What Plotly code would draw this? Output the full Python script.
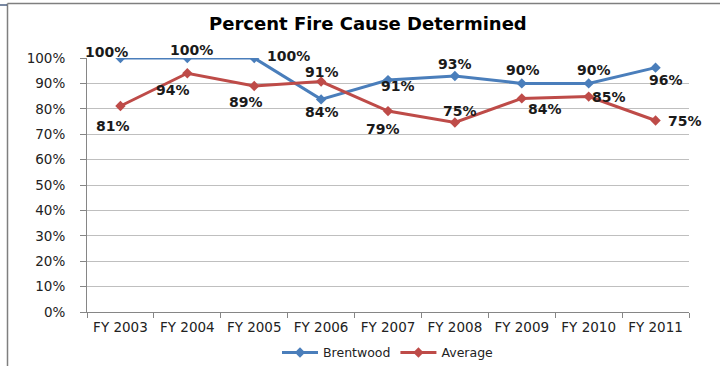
import plotly.graph_objects as go

categories = ["FY 2003", "FY 2004", "FY 2005", "FY 2006", "FY 2007",
              "FY 2008", "FY 2009", "FY 2010", "FY 2011"]
brentwood = [1.00, 1.00, 1.00, 0.837, 0.913, 0.929, 0.90, 0.90, 0.962]
average = [0.811, 0.94, 0.89, 0.907, 0.791, 0.746, 0.841, 0.848, 0.754]

# label offsets in pixels (dx, dy) relative to the point
b_off = [(-14, 6), (4, 8), (34, 2), (1, -13), (10, -6), (0, 12), (1, 13), (5, 13), (10, -12)]
a_off = [(-7, -20), (-14, -17), (-8, -16), (1, 10), (-5, -18), (5, 12), (23, -11), (20, 0), (29, -1)]

BLUE = "#4A7EBB"
RED = "#BE4B48"

fig = go.Figure()
fig.add_trace(go.Scatter(
    x=categories, y=brentwood, name="Brentwood", mode="lines+markers",
    line=dict(color=BLUE, width=3), marker=dict(symbol="diamond", size=8, color=BLUE)))
fig.add_trace(go.Scatter(
    x=categories, y=average, name="Average", mode="lines+markers",
    line=dict(color=RED, width=3), marker=dict(symbol="diamond", size=8, color=RED)))

annotations = []
for series, offs in ((brentwood, b_off), (average, a_off)):
    for c, v, (dx, dy) in zip(categories, series, offs):
        annotations.append(dict(
            x=c, y=v, xref="x", yref="y", text=f"{round(v * 100)}%",
            showarrow=False, xshift=dx, yshift=dy,
            font=dict(family="DejaVu Sans", size=14, color="#1a1a1a", weight=600)))

fig.update_layout(
    width=720, height=366,
    margin=dict(l=87, r=31, t=58, b=54, autoexpand=False),
    paper_bgcolor="white", plot_bgcolor="white",
    font=dict(family="DejaVu Sans", color="#222"),
    title=dict(text="<b>Percent Fire Cause Determined</b>", x=0.511, xanchor="center",
               y=1 - 24 / 366, yanchor="middle",
               font=dict(family="DejaVu Sans", size=18, color="#000")),
    showlegend=True,
    legend=dict(orientation="h", x=0.5, xanchor="center", y=-0.161, yanchor="middle",
                font=dict(family="DejaVu Sans", size=12.5, color="#222"),
                itemwidth=36, bgcolor="rgba(0,0,0,0)"),
    annotations=annotations,
    shapes=[
        dict(type="line", xref="paper", yref="paper",
             x0=(7.5 - 87) / 602, x1=(7.5 - 87) / 602,
             y0=(312 - 3.5) / 254, y1=(312 - 366) / 254,
             line=dict(color="#7F7F7F", width=1.5)),
        dict(type="line", xref="paper", yref="paper",
             x0=(7.5 - 87) / 602, x1=(720 - 87) / 602,
             y0=(312 - 3.5) / 254, y1=(312 - 3.5) / 254,
             line=dict(color="#7F7F7F", width=1.5)),
        dict(type="line", xref="paper", yref="paper",
             x0=(0 - 87) / 602, x1=(7 - 87) / 602,
             y0=(312 - 5) / 254, y1=(312 - 5) / 254,
             line=dict(color="#1F3864", width=1.2)),
    ],
)

fig.update_xaxes(
    type="category", range=[-0.5, 8.5], tickson="boundaries",
    ticks="outside", ticklen=5, tickcolor="#868686", ticklabelstandoff=3,
    showline=True, linecolor="#868686", linewidth=1, showgrid=False,
    tickfont=dict(family="DejaVu Sans", size=13.5, color="#222"))
fig.update_yaxes(
    range=[0, 1], dtick=0.1, tickformat=".0%",
    ticks="outside", ticklen=6, tickcolor="#868686", ticklabelstandoff=12,
    showline=True, linecolor="#868686", linewidth=1,
    showgrid=True, gridcolor="#BFBFBF", gridwidth=1, zeroline=False,
    tickfont=dict(family="DejaVu Sans", size=13.5, color="#222"))

fig.write_html("out.html", config={"displayModeBar": False},
               post_script="document.body.style.margin='0';document.body.style.overflow='hidden';")
